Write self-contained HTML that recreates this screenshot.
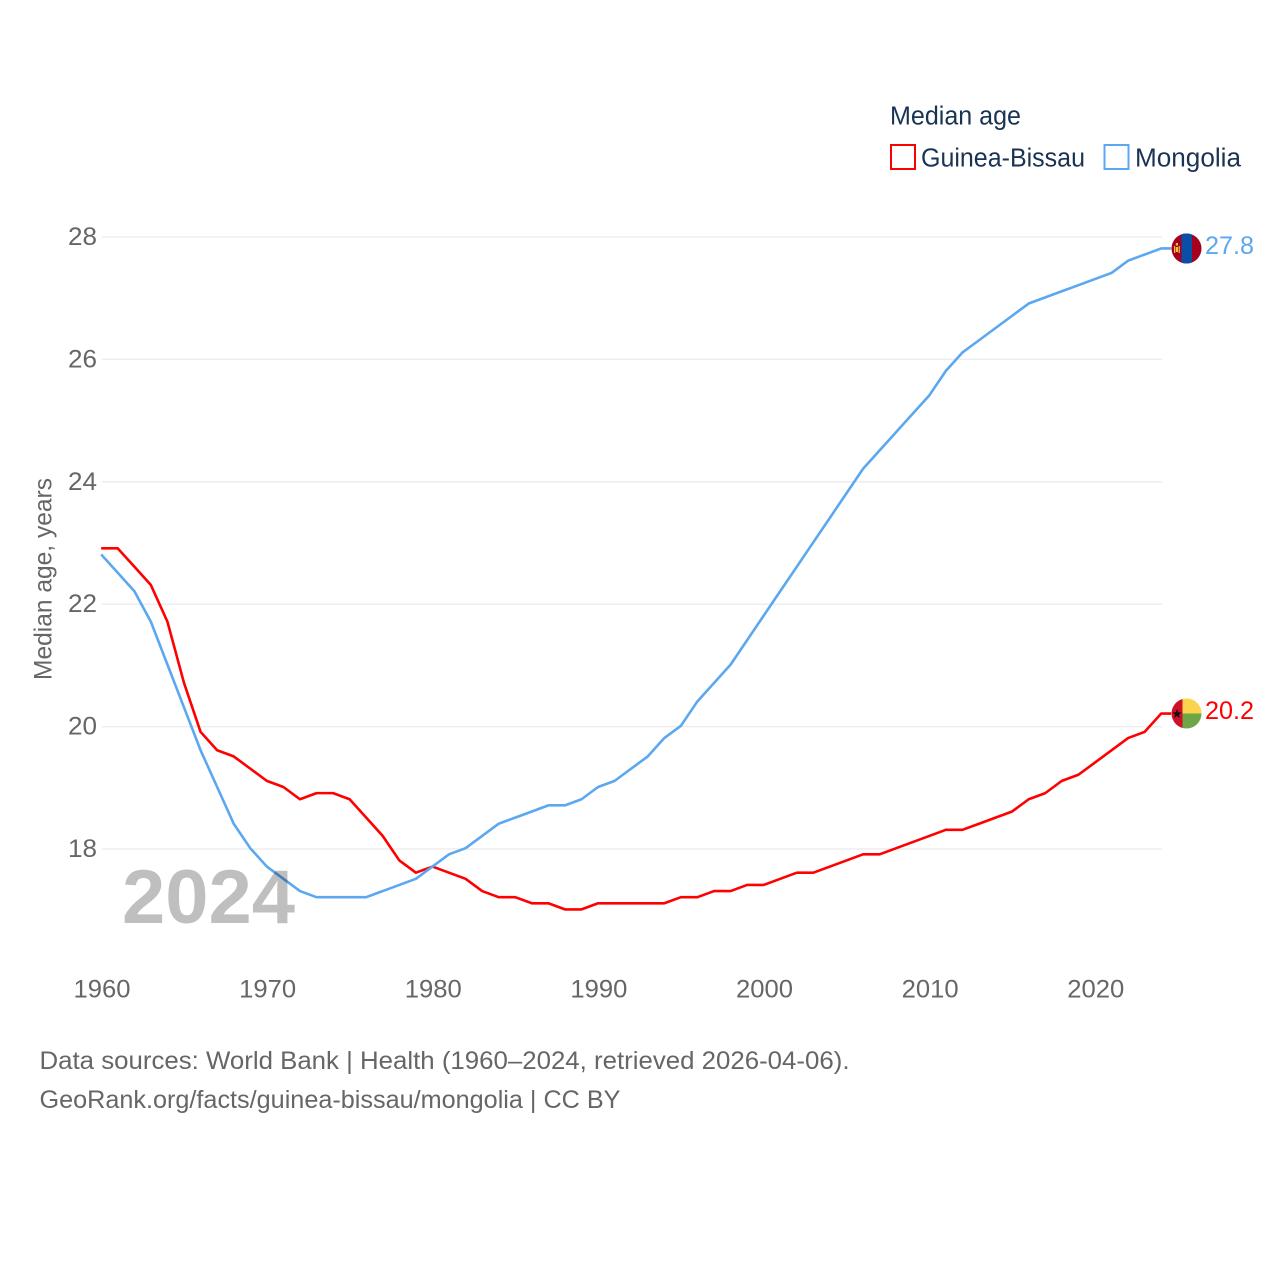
<!DOCTYPE html>
<html lang="en">
<head>
<meta charset="utf-8">
<title>Median age: Guinea-Bissau and Mongolia</title>
<style>
html,body{margin:0;padding:0;background:#fff;width:1280px;height:1280px;overflow:hidden}
svg{display:block}
text{font-family:"Liberation Sans",sans-serif}
</style>
</head>
<body>
<svg id="chart" xmlns="http://www.w3.org/2000/svg" width="1280" height="1280" viewBox="0 0 1280 1280">
  <defs>
    <clipPath id="flag-clip-mn"><circle cx="1186.5" cy="248.5" r="15"/></clipPath>
    <clipPath id="flag-clip-gw"><circle cx="1186.5" cy="713.5" r="15"/></clipPath>
  </defs>
  <rect width="1280" height="1280" fill="#fff"/>
  <g id="grid"></g>
  <g id="yticks"></g>
  <g id="xticks"></g>
  <g id="series" transform="translate(-0.8,-0.8)"></g>

  <text transform="translate(51.5,680) rotate(-90)" font-size="25" fill="#666" textLength="202" lengthAdjust="spacingAndGlyphs">Median age, years</text>

  <text x="122" y="923" font-size="76" font-weight="700" fill="#000" fill-opacity="0.25" textLength="173" lengthAdjust="spacingAndGlyphs">2024</text>

  <g>
    <text x="890" y="124.5" font-size="25.5" fill="#1a3353" textLength="131" lengthAdjust="spacingAndGlyphs">Median age</text>
    <g>
      <rect x="891" y="145" width="24" height="24" fill="none" stroke="#ff0000" stroke-width="2"/>
      <text x="921" y="166.5" font-size="25.5" fill="#1a3353" textLength="164" lengthAdjust="spacingAndGlyphs">Guinea-Bissau</text>
    </g>
    <g>
      <rect x="1104.5" y="145" width="24" height="24" fill="none" stroke="#5ba8f0" stroke-width="2"/>
      <text x="1135" y="166.5" font-size="25.5" fill="#1a3353" textLength="106" lengthAdjust="spacingAndGlyphs">Mongolia</text>
    </g>
  </g>

  <g clip-path="url(#flag-clip-mn)">
    <rect x="1171" y="233" width="31" height="31" fill="#a6001e"/>
    <rect x="1181.5" y="233" width="10.5" height="31" fill="#0b4ea8"/>
    <rect x="1174" y="246" width="1.2" height="7" fill="#f2c33c"/>
    <rect x="1178.6" y="246" width="1.2" height="7" fill="#f2c33c"/>
    <rect x="1175.8" y="247" width="2.2" height="5" fill="#f2c33c"/>
    <rect x="1175.8" y="243" width="2.2" height="2.5" fill="#f2c33c"/>
  </g>
  <g clip-path="url(#flag-clip-gw)">
    <rect x="1171" y="698" width="11.5" height="31" fill="#ce1126"/>
    <rect x="1182.5" y="698" width="20" height="15.5" fill="#fcd34d"/>
    <rect x="1182.5" y="713.5" width="20" height="15.5" fill="#6fa544"/>
    <polygon points="1177,709 1178.2,712.4 1181.8,712.4 1178.9,714.6 1180,718 1177,716 1174,718 1175.1,714.6 1172.2,712.4 1175.8,712.4" fill="#111"/>
  </g>

  <text x="1205" y="254" font-size="25" fill="#5ba8f0" textLength="49" lengthAdjust="spacingAndGlyphs">27.8</text>
  <text x="1205" y="719" font-size="25" fill="#ff0000" textLength="49" lengthAdjust="spacingAndGlyphs">20.2</text>

  <text x="39.5" y="1069" font-size="25" fill="#666" textLength="810" lengthAdjust="spacingAndGlyphs">Data sources: World Bank | Health (1960–2024, retrieved 2026-04-06).</text>
  <text x="39.5" y="1108" font-size="25" fill="#666" textLength="581" lengthAdjust="spacingAndGlyphs">GeoRank.org/facts/guinea-bissau/mongolia | CC BY</text>
</svg>
<script>
const years = [1960,1961,1962,1963,1964,1965,1966,1967,1968,1969,1970,1971,1972,1973,1974,1975,1976,1977,1978,1979,1980,1981,1982,1983,1984,1985,1986,1987,1988,1989,1990,1991,1992,1993,1994,1995,1996,1997,1998,1999,2000,2001,2002,2003,2004,2005,2006,2007,2008,2009,2010,2011,2012,2013,2014,2015,2016,2017,2018,2019,2020,2021,2022,2023,2024];
const guineaBissau = [22.9,22.9,22.6,22.3,21.7,20.7,19.9,19.6,19.5,19.3,19.1,19.0,18.8,18.9,18.9,18.8,18.5,18.2,17.8,17.6,17.7,17.6,17.5,17.3,17.2,17.2,17.1,17.1,17.0,17.0,17.1,17.1,17.1,17.1,17.1,17.2,17.2,17.3,17.3,17.4,17.4,17.5,17.6,17.6,17.7,17.8,17.9,17.9,18.0,18.1,18.2,18.3,18.3,18.4,18.5,18.6,18.8,18.9,19.1,19.2,19.4,19.6,19.8,19.9,20.2];
const mongolia = [22.8,22.5,22.2,21.7,21.0,20.3,19.6,19.0,18.4,18.0,17.7,17.5,17.3,17.2,17.2,17.2,17.2,17.3,17.4,17.5,17.7,17.9,18.0,18.2,18.4,18.5,18.6,18.7,18.7,18.8,19.0,19.1,19.3,19.5,19.8,20.0,20.4,20.7,21.0,21.4,21.8,22.2,22.6,23.0,23.4,23.8,24.2,24.5,24.8,25.1,25.4,25.8,26.1,26.3,26.5,26.7,26.9,27.0,27.1,27.2,27.3,27.4,27.6,27.7,27.8];
const yTicks = [18,20,22,24,26,28];
const xTicks = [1960,1970,1980,1990,2000,2010,2020];

const NS = 'http://www.w3.org/2000/svg';
function xScale(year) { return 102 + (year - 1960) * (1162 - 102) / 64; }
function yScale(value) { return 849 + (value - 18) * (237 - 849) / 10; }
function make(tag, attrs, parent) {
  const node = document.createElementNS(NS, tag);
  for (const key in attrs) node.setAttribute(key, attrs[key]);
  parent.appendChild(node);
  return node;
}

const gridGroup = document.getElementById('grid');
const yGroup = document.getElementById('yticks');
const xGroup = document.getElementById('xticks');
const seriesGroup = document.getElementById('series');

yTicks.forEach(function (tick) {
  const line = make('line', {x1: 102, x2: 1162, y1: yScale(tick), y2: yScale(tick), stroke: '#ededed', 'stroke-width': 1.5}, gridGroup);
  
  
  const label = make('text', {x: 97, y: yScale(tick) + 8, 'text-anchor': 'end', 'font-size': 25, fill: '#666', textLength: 29, lengthAdjust: 'spacingAndGlyphs'}, yGroup);
  
  
  label.textContent = tick;
});

xTicks.forEach(function (tick) {
  const label = make('text', {x: xScale(tick), y: 997.5, 'text-anchor': 'middle', 'font-size': 25, fill: '#666', textLength: 57, lengthAdjust: 'spacingAndGlyphs'}, xGroup);
  
  
  label.textContent = tick;
});

function drawSeries(values, color) {
  let d = values.map(function (v, i) {
    return (i ? 'L' : 'M') + xScale(years[i]).toFixed(2) + ' ' + yScale(v).toFixed(2);
  }).join(' ');
  d += ' H' + (xScale(years[years.length - 1]) + 10);
  return make('path', {d: d, fill: 'none', stroke: color, 'stroke-width': 2.6, 'stroke-linejoin': 'round'}, seriesGroup);
}

const redLine = drawSeries(guineaBissau, '#ff0000');



const blueLine = drawSeries(mongolia, '#5ba8f0');


</script>
</body>
</html>
